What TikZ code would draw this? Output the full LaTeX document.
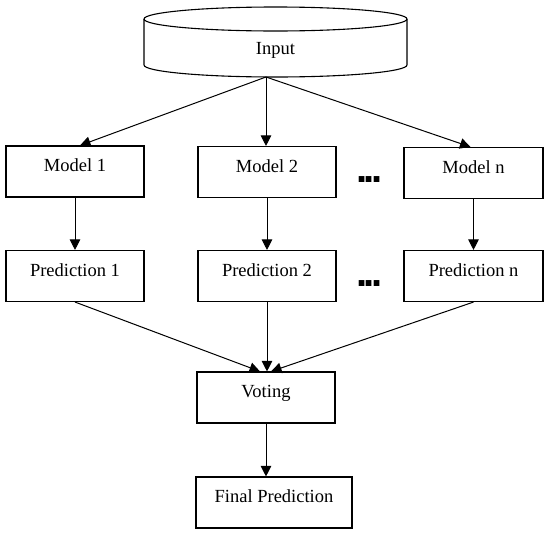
\documentclass[tikz,border=0pt]{standalone}
\usepackage{fontspec}
\setmainfont{Liberation Serif}
\newfontfamily\dotfont{Liberation Sans}
\usetikzlibrary{arrows.meta}
\tikzset{
  box/.style={draw, line width=1.1pt, minimum width=138pt, minimum height=51pt, inner sep=0pt,
    text height=6pt, text depth=6pt, font=\fontsize{18.5}{22}\selectfont},
  conn/.style={line width=1pt, -{Triangle[length=10.5pt,width=10.5pt]}},
  dots/.style={inner sep=0pt, anchor=base, font=\dotfont\bfseries\fontsize{40}{40}\selectfont}
}
\begin{document}
\begin{tikzpicture}[x=1pt,y=-1pt]
\useasboundingbox (0,0) rectangle (550,536);
% cylinder
\filldraw[fill=white, line width=1.1pt] (144,19) -- (144,65)
  arc[start angle=180, end angle=360, x radius=131.5pt, y radius=12pt] -- (407,19);
\draw[line width=1.1pt] (275.5,19) ellipse [x radius=131.5pt, y radius=12pt];
\node[inner sep=0pt, text height=6pt, text depth=6pt, font=\fontsize{18.5}{22}\selectfont] (input) at (275.5,54) {Input};
\coordinate (inbot) at (266,77);
% models
\node[box] (m1) at (75,171.5) {Model 1};
\node[box] (m2) at (267,172) {Model 2};
\node[box, minimum width=139pt] (mn) at (473.5,173) {Model n};
% predictions
\node[box] (p1) at (75,276) {Prediction 1};
\node[box] (p2) at (267,276) {Prediction 2};
\node[box, minimum width=139pt] (pn) at (473.5,276) {Prediction n};
% dots
\node[dots] (d1) at (369.5,182) {.\kern-3.6pt.\kern-3.6pt.};
\node[dots] (d2) at (369.5,286) {.\kern-3.6pt.\kern-3.6pt.};
% voting and final
\node[box] (vote) at (266,397.5) {Voting};
\node[box, minimum width=156pt] (final) at (274,502.5) {Final Prediction};
% connectors
\draw[conn] (inbot) -- ([xshift=5pt]m1.north);
\draw[conn] (inbot) -- (inbot |- m2.north);
\draw[conn] (inbot) -- ([xshift=-3pt]mn.north);
\draw[conn] (m1.south) -- (p1.north);
\draw[conn] (m2.south) -- (p2.north);
\draw[conn] (mn.south) -- (pn.north);
\draw[conn] (p1.south) -- ([xshift=-6pt]vote.north);
\draw[conn] (p2.south) -- (p2.south |- vote.north);
\draw[conn] (pn.south) -- ([xshift=5pt]vote.north);
\draw[conn] (vote.south) -- (vote.south |- final.north);
\end{tikzpicture}
\end{document}
